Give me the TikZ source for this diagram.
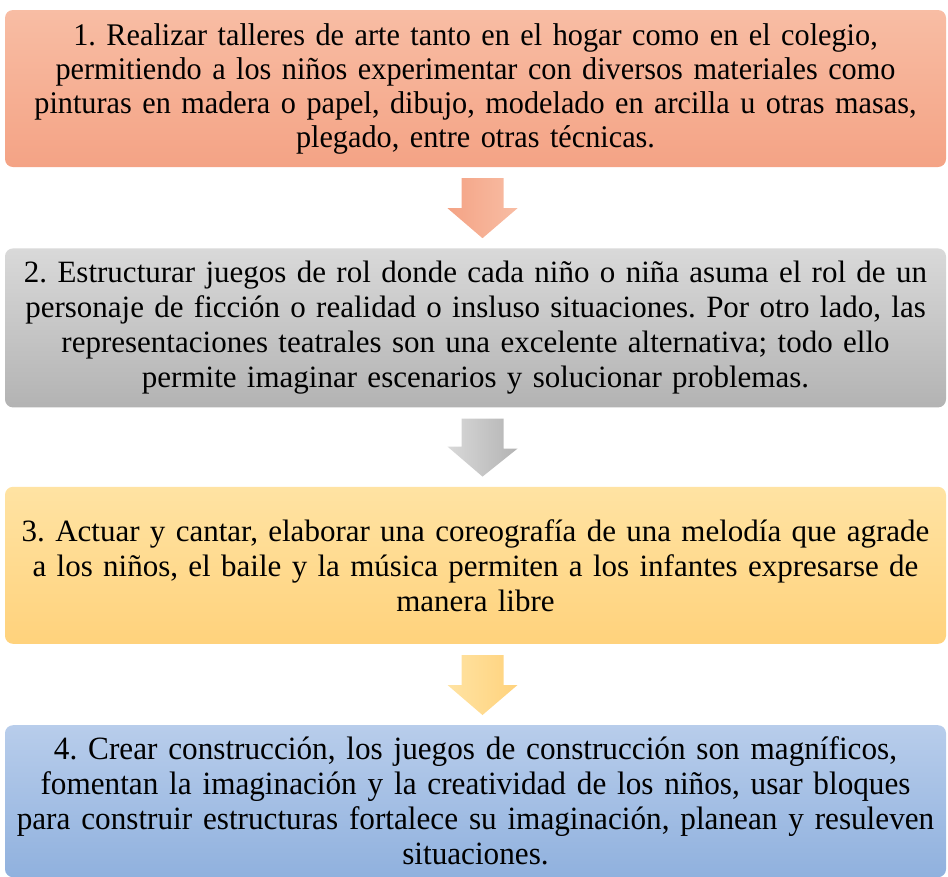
\documentclass[tikz,border=0pt]{standalone}
\usepackage{fontspec}
\setmainfont{Liberation Serif}
\newfontfamily\narrowserif[FakeStretch=0.96]{Liberation Serif}
\usetikzlibrary{positioning, calc}
\frenchspacing
\definecolor{stSalmonT}{HTML}{F8BDA4}
\definecolor{stSalmonB}{HTML}{F4A385}
\definecolor{stGrayT}{HTML}{D9D9D9}
\definecolor{stGrayB}{HTML}{B3B3B3}
\definecolor{stGoldT}{HTML}{FFE3A3}
\definecolor{stGoldB}{HTML}{FFD27C}
\definecolor{stBlueT}{HTML}{B8CDEB}
\definecolor{stBlueB}{HTML}{90B1DE}
\tikzset{
  stagebox/.style={
    rounded corners=8pt, minimum width=941pt, minimum height=157pt,
    text width=935pt, align=center, inner sep=0pt,
    font=\fontsize{31}{35}\selectfont
  },
  salmonbox/.style={stagebox, top color=stSalmonT, bottom color=stSalmonB},
  graybox/.style={stagebox, top color=stGrayT, bottom color=stGrayB},
  goldbox/.style={stagebox, top color=stGoldT, bottom color=stGoldB},
  bluebox/.style={stagebox, top color=stBlueT, bottom color=stBlueB}
}
\begin{document}
\begin{tikzpicture}[node distance=80pt]
  \useasboundingbox (0,0) rectangle (948pt,-876pt);
  % stages
  \node[salmonbox, font=\narrowserif\fontsize{31.5}{34}\selectfont] (s1) at (475.5pt,-88.5pt)
    {1. Realizar talleres de arte tanto en el hogar como en el colegio,\\
     permitiendo a los niños experimentar con diversos materiales como\\
     pinturas en madera o papel, dibujo, modelado en arcilla u otras masas,\\
     plegado, entre otras técnicas.};
  \node[graybox, below=81pt of s1, minimum height=159pt] (s2)
    {2. Estructurar juegos de rol donde cada niño o niña asuma el rol de un\\
     personaje de ficción o realidad o insluso situaciones. Por otro lado, las\\
     representaciones teatrales son una excelente alternativa; todo ello\\
     permite imaginar escenarios y solucionar problemas.};
  \node[goldbox, below=79pt of s2] (s3)
    {3. Actuar y cantar, elaborar una coreografía de una melodía que agrade\\
     a los niños, el baile y la música permiten a los infantes expresarse de\\
     manera libre};
  \node[bluebox, below=81pt of s3, minimum height=152pt, font=\narrowserif\fontsize{32.5}{35}\selectfont] (s4)
    {4. Crear construcción, los juegos de construcción son magníficos,\\
     fomentan la imaginación y la creatividad de los niños, usar bloques\\
     para construir estructuras fortalece su imaginación, planean y resuleven\\
     situaciones.};
  % block arrows
  \foreach \s/\e/\l/\r in {s1/s2/stSalmonB/stSalmonT, s2/s3/stGrayT/stGrayB, s3/s4/stGoldT/stGoldB}{
    \shade[left color=\l, right color=\r]
      ($(\s.south)+(-14pt,-11pt)$) -- ++(42pt,0) -- ++(0,-30pt) -- ++(14pt,0)
      -- ($(\e.north)+(7pt,10pt)$) -- ++(-35pt,30pt) -- ++(14pt,0) -- cycle;
  }
\end{tikzpicture}
\end{document}
